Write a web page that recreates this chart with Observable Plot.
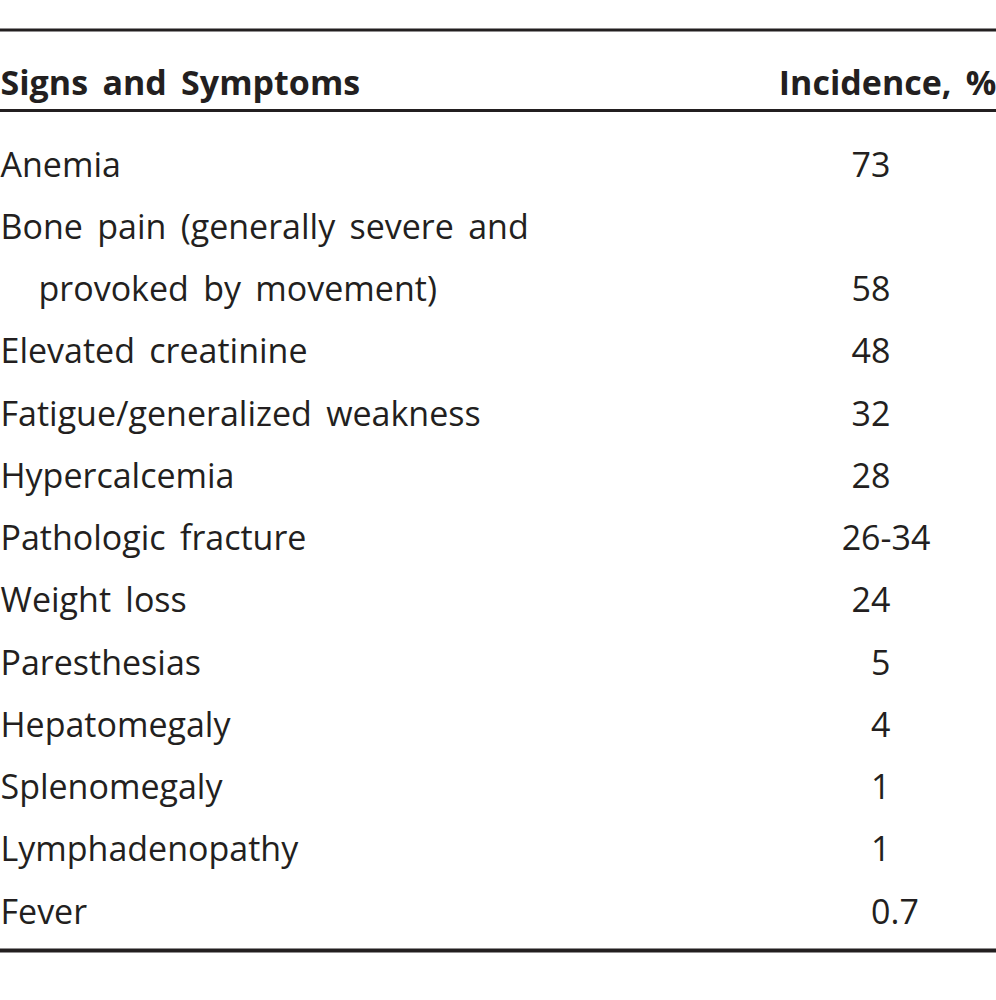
<!DOCTYPE html>
<html>
<head>
<meta charset="utf-8">
<script src="https://cdn.jsdelivr.net/npm/d3@7"></script>
<script src="https://cdn.jsdelivr.net/npm/@observablehq/plot@0.6"></script>
<style>
  html, body { margin: 0; padding: 0; background: #fff; }
  #chart svg text { word-spacing: 5.5px; }
  #chart svg text[font-weight="bold"] { word-spacing: 8px; }
</style>
</head>
<body>
<div id="chart"></div>
<script>
// ---- data ----
const headers = ["Signs and Symptoms", "Incidence, %"];
const signs = [
  "Anemia",
  "Bone pain (generally severe and provoked by movement)",
  "Elevated creatinine",
  "Fatigue/generalized weakness",
  "Hypercalcemia",
  "Pathologic fracture",
  "Weight loss",
  "Paresthesias",
  "Hepatomegaly",
  "Splenomegaly",
  "Lymphadenopathy",
  "Fever"
];
const incidence = ["73", "58", "48", "32", "28", "26-34", "24", "5", "4", "1", "1", "0.7"];
const wrapped = {
  "Bone pain (generally severe and provoked by movement)":
    ["Bone pain (generally severe and", "provoked by movement)"]
};

// ---- layout (row units on the y scale, pixels on x) ----
const W = 996, H = 1000;
const colLabel = 0, colValue = 890, colRight = W;
const ink = "#231f20";
const fs = 34;

// build visual lines
const lines = [];
signs.forEach((s, i) => {
  const parts = wrapped[s] || [s];
  parts.forEach((p, j) => {
    lines.push({
      row: lines.length,
      text: p,
      indent: j > 0,
      value: j === parts.length - 1 ? incidence[i] : null
    });
  });
});
const nRows = lines.length;
const valueRows = lines.filter(d => d.value != null);
const simple = valueRows.filter(d => !d.value.includes("-"));
const ranges = valueRows.filter(d => d.value.includes("-"));
const intPart = d => d.value.split(".")[0];
const fracPart = d => d.value.includes(".") ? "." + d.value.split(".")[1] : "";

const headerRow = -1.317;
const thinRules = [-2.353, -1.06];
const thickRules = [nRows - 1 + 0.434];

const chart = Plot.plot({
  width: W,
  height: H,
  margin: 0,
  x: {type: "linear", domain: [0, W], range: [0, W], axis: null},
  y: {type: "linear", domain: [0, nRows - 1], range: [176, 923], axis: null},
  style: {fontFamily: "'Open Sans', sans-serif", color: ink, background: "#fff"},
  marks: [
    Plot.ruleY(thinRules, {y: d => d, x1: 0, x2: W, stroke: ink, strokeWidth: 3}),
    Plot.ruleY(thickRules, {y: d => d, x1: 0, x2: W, stroke: ink, strokeWidth: 4}),
    Plot.text([headers[0]], {x: () => colLabel, y: () => headerRow, text: d => d,
      textAnchor: "start", lineAnchor: "bottom", fontSize: fs, fontWeight: "bold", fill: ink}),
    Plot.text([headers[1]], {x: () => colRight, y: () => headerRow, text: d => d,
      textAnchor: "end", lineAnchor: "bottom", fontSize: fs, fontWeight: "bold", fill: ink}),
    Plot.text(lines, {x: () => colLabel, y: "row", text: "text",
      textAnchor: "start", lineAnchor: "bottom", fontSize: fs, fill: ink,
      filter: d => !d.indent}),
    Plot.text(lines, {x: () => colLabel, y: "row", text: "text", dx: 38,
      textAnchor: "start", lineAnchor: "bottom", fontSize: fs, fill: ink,
      filter: d => d.indent}),
    Plot.text(simple, {x: () => colValue, y: "row", text: intPart,
      textAnchor: "end", lineAnchor: "bottom", fontSize: fs, fill: ink}),
    Plot.text(simple, {x: () => colValue, y: "row", text: fracPart,
      textAnchor: "start", lineAnchor: "bottom", fontSize: fs, fill: ink}),
    Plot.text(ranges, {x: () => colValue, y: "row", text: "value", dx: -4.5,
      textAnchor: "middle", lineAnchor: "bottom", fontSize: fs, fill: ink})
  ]
});
document.getElementById("chart").appendChild(chart);
</script>
</body>
</html>
